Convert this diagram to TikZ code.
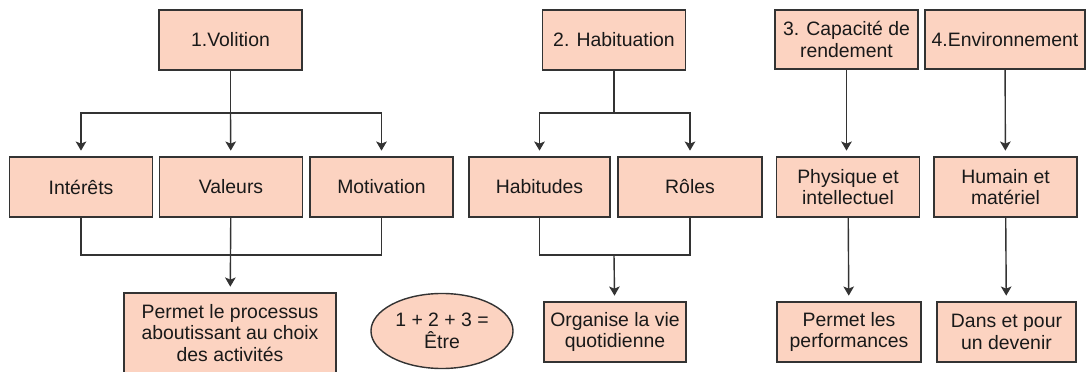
\documentclass[tikz,border=0pt]{standalone}
\usepackage{fontspec}
\setmainfont{Liberation Sans}
\usetikzlibrary{arrows.meta,shapes.geometric,positioning}
\definecolor{sal}{HTML}{FCD3C1}
\colorlet{lnx}{black!80}
\tikzset{
    boite/.style={draw=lnx,fill=sal,line width=1pt,minimum width=3.575cm,minimum height=1.5cm,
        inner sep=1pt,align=center,font=\fontsize{13.8}{15.5}\selectfont,text=black!90},
    fleche/.style={lnx,line width=1pt,-{Stealth[length=6.5pt,width=7.5pt,inset=1.5pt]},shorten >=4pt},
    trait/.style={lnx,line width=1pt}
}

\begin{document}
\begin{tikzpicture}[x=0.025cm,y=-0.025cm]
    \useasboundingbox (0,0) rectangle (1086,372);
    % 1. volition
    \node [boite] (vol) at (230.5,40) {1.Volition};
    \node [boite] (int) at (81,187) {Intérêts};
    \node [boite] (val) at (231,187) {Valeurs};
    \node [boite] (mot) at (381.5,187) {Motivation};
    \node [boite,minimum width=5.3cm,minimum height=2cm] (proc) at (230,333)
        {Permet le processus\\aboutissant au choix\\des activités};
    \coordinate (vsplit) at (230.5,113);
    \coordinate (vjoin) at (230.5,255);
    \draw [trait] (vol) -- (vsplit);
    \draw [fleche] (vsplit) -| (int);
    \draw [fleche] (vsplit) -- (val);
    \draw [fleche] (vsplit) -| (mot);
    \draw [trait] (int) |- (vjoin) -| (mot);
    \draw [trait] (val) -- (vjoin);
    \draw [fleche] (vjoin) -- (proc);
    % somme
    \node [boite,ellipse,minimum width=3.55cm,minimum height=1.875cm,inner sep=0pt] (etre)
        at (442,331) {1 + 2 + 3 =\\Être};
    % 2. habituation
    \node [boite] (hab) at (614,40) {2. Habituation};
    \node [boite,minimum width=3.525cm] (habi) at (539.5,187) {Habitudes};
    \node [boite,minimum width=3.6cm] (rol) at (690,187) {Rôles};
    \node [boite,minimum width=3.55cm] (org) at (615,332) {Organise la vie\\quotidienne};
    \coordinate (hsplit) at (614,113);
    \coordinate (hjoin) at (614,255);
    \draw [trait] (hab) -- (hsplit);
    \draw [fleche] (hsplit) -| (habi);
    \draw [fleche] (hsplit) -| (rol);
    \draw [trait] (habi) |- (hjoin) -| (rol);
    \draw [fleche] (hjoin) -- (org);
    % 3. capacite
    \node [boite,minimum height=1.475cm] (cap) at (846.5,39.5) {3. Capacité de\\rendement};
    \node [boite] (phy) at (848,187) {Physique et\\intellectuel};
    \node [boite,minimum width=3.6cm] (perf) at (849,332) {Permet les\\performances};
    \draw [fleche] (cap) -- (cap |- phy.north);
    \draw [fleche] (phy) -- (perf);
    % 4. environnement
    \node [boite,minimum width=4cm,minimum height=1.475cm] (env) at (1005,39.5) {4.Environnement};
    \node [boite] (hum) at (1005.5,187) {Humain et\\matériel};
    \node [boite,minimum width=3.475cm] (dev) at (1006.5,332) {Dans et pour\\un devenir};
    \draw [fleche] (env) -- (hum);
    \draw [fleche] (hum) -- (dev);
\end{tikzpicture}
\end{document}
